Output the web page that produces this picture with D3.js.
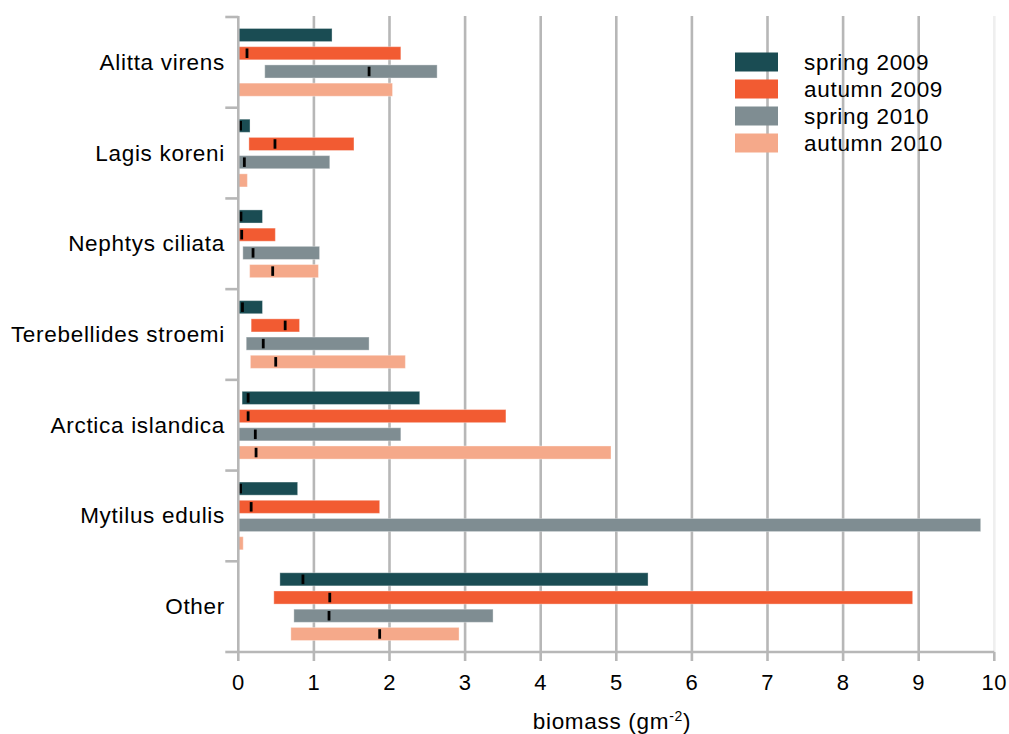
<!DOCTYPE html>
<html>
<head>
<meta charset="utf-8">
<script src="https://cdn.jsdelivr.net/npm/d3@7"></script>
<style>
  html, body { margin: 0; padding: 0; background: #fff; }
  svg { display: block; }
  text { font-family: "Liberation Sans", Arial, Helvetica, sans-serif; fill: #000; }
</style>
</head>
<body>
<svg id="chart" width="1009" height="734"></svg>
<script>
const categories = ["Alitta virens", "Lagis koreni", "Nephtys ciliata", "Terebellides stroemi", "Arctica islandica", "Mytilus edulis", "Other"];
const seasons = ["spring 2009", "autumn 2009", "spring 2010", "autumn 2010"];
const seasonColors = ["#1a4c53", "#f25b32", "#7f8d92", "#f5a98a"];
const xTicks = [0, 1, 2, 3, 4, 5, 6, 7, 8, 9, 10];

// per season: minimum, maximum, median (null = no visible median mark)
const spring2009Min = [0, 0, 0, 0, 0.05, 0, 0.55];
const spring2009Max = [1.24, 0.155, 0.32, 0.32, 2.40, 0.785, 5.42];
const spring2009Med = [null, 0.03, 0.035, 0.055, 0.13, 0.03, 0.855];

const autumn2009Min = [0, 0.14, 0, 0.17, 0, 0, 0.47];
const autumn2009Max = [2.15, 1.53, 0.49, 0.81, 3.54, 1.87, 8.92];
const autumn2009Med = [0.115, 0.485, 0.045, 0.62, 0.13, 0.17, 1.21];

const spring2010Min = [0.35, 0, 0.06, 0.105, 0, 0, 0.735];
const spring2010Max = [2.63, 1.21, 1.075, 1.73, 2.15, 9.82, 3.37];
const spring2010Med = [1.73, 0.08, 0.195, 0.33, 0.225, null, 1.20];

const autumn2010Min = [0, 0, 0.15, 0.16, 0, 0, 0.695];
const autumn2010Max = [2.04, 0.12, 1.06, 2.21, 4.93, 0.065, 2.92];
const autumn2010Med = [null, null, 0.455, 0.495, 0.235, null, 1.87];

const mins = [spring2009Min, autumn2009Min, spring2010Min, autumn2010Min];
const maxs = [spring2009Max, autumn2009Max, spring2010Max, autumn2010Max];
const meds = [spring2009Med, autumn2009Med, spring2010Med, autumn2010Med];

const rows = [];
categories.forEach((c, ci) => {
  seasons.forEach((s, si) => {
    rows.push({cat: c, season: s, si: si, min: mins[si][ci], max: maxs[si][ci], med: meds[si][ci]});
  });
});

const svg = d3.select("#chart");
const plotLeft = 238.3, plotRight = 994.3, plotTop = 17, plotBottom = 652;
const gridColor = "#b7b7b7";

const x = d3.scaleLinear().domain([0, 10]).range([plotLeft, plotRight]);
const y = d3.scaleBand().domain(categories).range([plotTop, plotBottom]).padding(0);
const ySub = d3.scaleBand().domain(seasons).range([0, y.bandwidth()]).paddingInner(0.28).paddingOuter(0.63);
const color = d3.scaleOrdinal().domain(seasons).range(seasonColors);

// vertical gridlines
svg.append("g").selectAll("line").data(xTicks.filter(d => d > 0)).join("line")
  .attr("x1", d => x(d)).attr("x2", d => x(d))
  .attr("y1", plotTop - 1).attr("y2", plotBottom)
  .attr("stroke", d => d === 10 ? "#efefef" : gridColor)
  .attr("stroke-width", 2.6);

// bars
svg.append("g").selectAll("rect").data(rows).join("rect")
  .attr("x", d => x(d.min))
  .attr("y", d => y(d.cat) + ySub(d.season))
  .attr("width", d => x(d.max) - x(d.min))
  .attr("height", ySub.bandwidth())
  .attr("fill", d => color(d.season))
  .attr("stroke", "rgba(255,255,255,0.35)")
  .attr("stroke-width", 1);

// median marks
svg.append("g").selectAll("rect").data(rows.filter(d => d.med !== null)).join("rect")
  .attr("x", d => x(d.med) - 1.4)
  .attr("y", d => y(d.cat) + ySub(d.season) + 1.8)
  .attr("width", 2.8)
  .attr("height", ySub.bandwidth() - 3.6)
  .attr("fill", "#000");

// y axis
const yAxisG = svg.append("g");
yAxisG.append("line")
  .attr("x1", plotLeft).attr("x2", plotLeft).attr("y1", plotTop - 1).attr("y2", plotBottom)
  .attr("stroke", gridColor).attr("stroke-width", 2.6);
const boundaries = categories.map(c => y(c)).concat([plotBottom]);
yAxisG.selectAll("line.tk").data(boundaries).join("line").attr("class", "tk")
  .attr("x1", plotLeft - 13).attr("x2", plotLeft).attr("y1", d => d).attr("y2", d => d)
  .attr("stroke", gridColor).attr("stroke-width", 2.6);
yAxisG.selectAll("text").data(categories).join("text")
  .attr("x", 225).attr("y", d => y(d) + y.bandwidth() / 2)
  .attr("text-anchor", "end").attr("dominant-baseline", "central")
  .attr("font-size", 22.5).attr("letter-spacing", 0.7)
  .text(d => d);

// x axis
const xAxisG = svg.append("g");
xAxisG.append("line")
  .attr("x1", plotLeft).attr("x2", plotRight).attr("y1", plotBottom).attr("y2", plotBottom)
  .attr("stroke", gridColor).attr("stroke-width", 2.6);
xAxisG.selectAll("line.tk").data(xTicks).join("line").attr("class", "tk")
  .attr("x1", d => x(d)).attr("x2", d => x(d)).attr("y1", plotBottom).attr("y2", plotBottom + 9)
  .attr("stroke", gridColor).attr("stroke-width", 2.6);
xAxisG.selectAll("text").data(xTicks).join("text")
  .attr("x", d => x(d)).attr("y", 689.5)
  .attr("text-anchor", "middle")
  .attr("font-size", 22).attr("letter-spacing", 0.5)
  .text(d => d);

// axis title
const title = svg.append("text")
  .attr("x", 612).attr("y", 729)
  .attr("text-anchor", "middle")
  .attr("font-size", 22.5).attr("letter-spacing", 0.7);
title.append("tspan").text("biomass (gm");
title.append("tspan").attr("dy", -8).attr("font-size", 14).text("-2");
title.append("tspan").attr("dy", 8).text(")");

// legend
const legend = svg.append("g");
const lg = legend.selectAll("g").data(seasons).join("g")
  .attr("transform", (d, i) => `translate(735, ${52.5 + i * 27})`);
lg.append("rect").attr("width", 43).attr("height", 19).attr("fill", d => color(d));
lg.append("text").attr("x", 69).attr("y", 9.5)
  .attr("dominant-baseline", "central")
  .attr("font-size", 22.5).attr("letter-spacing", 0.7)
  .text(d => d);
</script>
</body>
</html>
